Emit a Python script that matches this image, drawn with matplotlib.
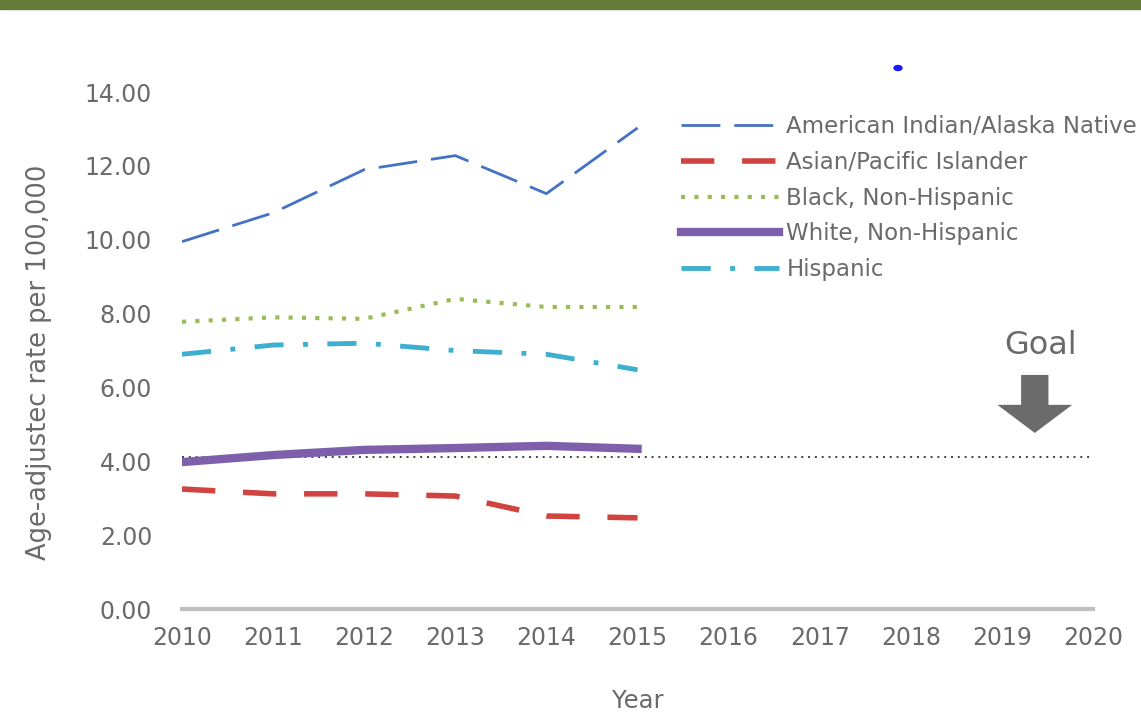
import matplotlib
matplotlib.use("Agg")
import matplotlib.pyplot as plt
from matplotlib.patches import Rectangle, Ellipse, FancyArrow

# data
years = [2010, 2011, 2012, 2013, 2014, 2015]
aian = [9.95, 10.73, 11.9, 12.28, 11.25, 13.03]
asian_pi = [3.25, 3.12, 3.12, 3.06, 2.52, 2.47]
black = [7.78, 7.9, 7.86, 8.4, 8.18, 8.18]
white = [3.98, 4.17, 4.31, 4.36, 4.42, 4.34]
hispanic = [6.9, 7.15, 7.2, 7.0, 6.9, 6.48]
goal_value = 4.12
goal_years = [2010, 2020]
x_ticks = list(range(2010, 2021))
y_ticks = [0, 2, 4, 6, 8, 10, 12, 14]

txt = "#6a6a6a"
plt.rcParams['font.family'] = ['DejaVu Sans']

fig = plt.figure(figsize=(11.41, 7.14), dpi=100)
ax = fig.add_axes([0.1595, 0.147, 0.7985, 0.724])

ax.plot(years, aian, color="#4472c4", lw=2, dashes=(14, 5),
        label="American Indian/Alaska Native")
ax.plot(years, asian_pi, color="#d0433e", lw=4, dashes=(6, 5),
        label="Asian/Pacific Islander")
ax.plot(years, black, color="#9bbb59", lw=3, dashes=(1, 2.2),
        label="Black, Non-Hispanic")
ax.plot(years, white, color="#7e5fab", lw=6,
        label="White, Non-Hispanic")
ax.plot(years, hispanic, color="#3fafcf", lw=3.5, dashes=(6, 4, 1, 4),
        label="Hispanic")

ax.plot(goal_years, [goal_value, goal_value], color="#404040", lw=1.4,
        dashes=(1, 2.5), zorder=1)

ax.add_patch(FancyArrow(2019.36, 6.34, 0, -1.57, width=0.3, head_width=0.82,
                        head_length=0.76, length_includes_head=True,
                        color="#6b6b6b", lw=0))
ax.text(2019.42, 7.15, "Goal", ha="center", va="center", fontsize=23, color=txt)

ax.set_xlim(2010, 2020)
ax.set_ylim(0, 14)
ax.set_xticks(x_ticks)
ax.set_yticks(y_ticks)
ax.set_yticklabels([f"{v:.2f}" for v in y_ticks])
ax.tick_params(length=0, labelsize=17, labelcolor=txt, pad=12)
ax.tick_params(axis="y", pad=21.5)
for s in ["top", "right", "left"]:
    ax.spines[s].set_visible(False)
ax.spines["bottom"].set_color("#bfbfbf")
ax.spines["bottom"].set_linewidth(3)

ax.set_xlabel("Year", fontsize=17.5, color=txt, labelpad=28)
ax.set_ylabel("Age-adjustec rate per 100,000", fontsize=18.5, color=txt)
ax.yaxis.set_label_coords(-0.143, 0.478)

leg = ax.legend(loc="upper left", bbox_to_anchor=(0.525, 0.995), frameon=False,
                fontsize=16.5, handlelength=4.3, handletextpad=0.3,
                labelspacing=0.55, labelcolor=txt)

# top olive bar and the small blue dot
fig.patches.append(Rectangle((0, 1 - 9 / 714), 1, 9 / 714, transform=fig.transFigure,
                             color="#667a38", zorder=5))
fig.patches.append(Ellipse((898 / 1141, 1 - 68 / 714), 8 / 1141, 5 / 714,
                           transform=fig.transFigure, color="#1a1aff", zorder=5))

fig.savefig("out.png", dpi=100)
